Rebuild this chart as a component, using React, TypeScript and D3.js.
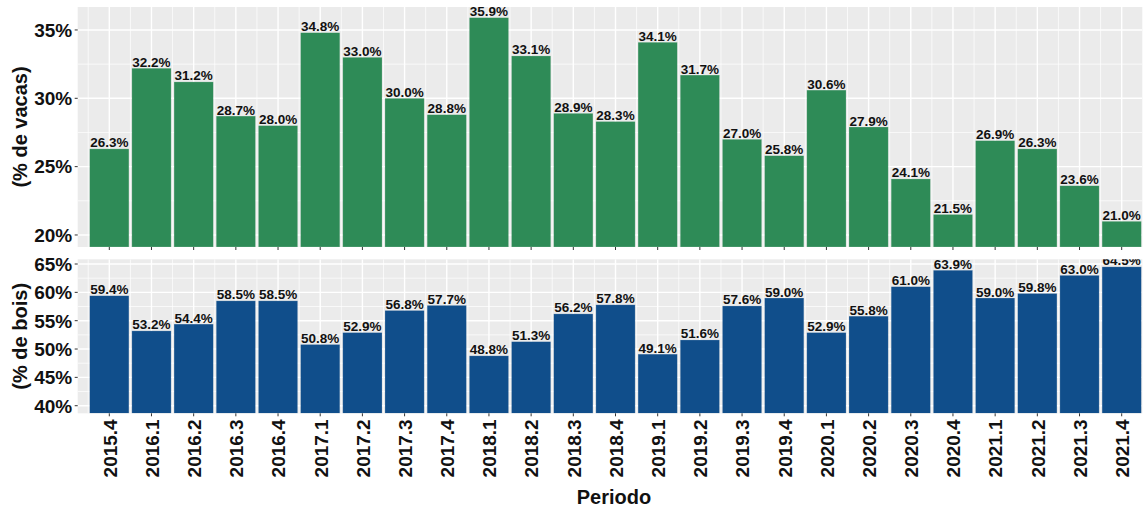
import * as d3 from "d3";

const periods = [
	"2015.4", "2016.1", "2016.2", "2016.3", "2016.4", "2017.1", "2017.2", "2017.3", "2017.4",
	"2018.1", "2018.2", "2018.3", "2018.4", "2019.1", "2019.2", "2019.3", "2019.4",
	"2020.1", "2020.2", "2020.3", "2020.4", "2021.1", "2021.2", "2021.3", "2021.4",
];
const vacas = [
	26.3, 32.2, 31.2, 28.7, 28.0, 34.8, 33.0, 30.0, 28.8, 35.9, 33.1, 28.9, 28.3,
	34.1, 31.7, 27.0, 25.8, 30.6, 27.9, 24.1, 21.5, 26.9, 26.3, 23.6, 21.0,
];
const bois = [
	59.4, 53.2, 54.4, 58.5, 58.5, 50.8, 52.9, 56.8, 57.7, 48.8, 51.3, 56.2, 57.8,
	49.1, 51.6, 57.6, 59.0, 52.9, 55.8, 61.0, 63.9, 59.0, 59.8, 63.0, 64.5,
];
const vacasTicks = [20, 25, 30, 35];
const boisTicks = [40, 45, 50, 55, 60, 65];

const W = 1148;
const H = 508;
const left = 77.7;
const right = 1142.3;
const font = "'Liberation Sans', Arial, Helvetica, sans-serif";

interface PanelProps {
	id: string;
	values: number[];
	ticks: number[];
	domain: [number, number];
	top: number;
	bottom: number;
	fill: string;
	title: string;
	x: d3.ScaleLinear<number, number>;
}

function Panel({ id, values, ticks, domain, top, bottom, fill, title, x }: PanelProps) {
	const y = d3.scaleLinear().domain(domain).range([bottom, top]);
	const step = x(1) - x(0);
	const barW = step * 0.93;
	const minor = ticks.map((t) => t + 2.5).concat([ticks[0] - 2.5]).filter((t) => t > domain[0] && t < domain[1]);
	const vMinor = d3.range(-0.5, values.length, 1).filter((i) => x(i) > left && x(i) < right);
	return (
		<g>
			<defs>
				<clipPath id={`clip-${id}`}>
					<rect x={left} y={top} width={right - left} height={bottom - top} />
				</clipPath>
			</defs>
			<rect x={left} y={top} width={right - left} height={bottom - top} fill="#EBEBEB" />
			<g clipPath={`url(#clip-${id})`}>
				{minor.map((t) => (
					<line key={"hm" + t} x1={left} x2={right} y1={y(t)} y2={y(t)} stroke="#fff" strokeWidth={0.7} />
				))}
				{vMinor.map((i) => (
					<line key={"vm" + i} x1={x(i)} x2={x(i)} y1={top} y2={bottom} stroke="#fff" strokeWidth={0.7} />
				))}
				{ticks.map((t) => (
					<line key={"h" + t} x1={left} x2={right} y1={y(t)} y2={y(t)} stroke="#fff" strokeWidth={1.4} />
				))}
				{values.map((_, i) => (
					<line key={"v" + i} x1={x(i)} x2={x(i)} y1={top} y2={bottom} stroke="#fff" strokeWidth={1.4} />
				))}
				{values.map((v, i) => (
					<rect
						key={"b" + i}
						x={x(i) - barW / 2}
						y={y(v)}
						width={barW}
						height={bottom - y(v)}
						fill={fill}
						stroke="#f0f0f0"
						strokeOpacity={0.35}
						strokeWidth={0.6}
					/>
				))}
				{values.map((v, i) => (
					<text
						key={"l" + i}
						x={x(i)}
						y={y(v) - 1.5}
						textAnchor="middle"
						fontSize={13.5}
						fontWeight="bold"
						fill="#111"
					>
						{v.toFixed(1)}%
					</text>
				))}
			</g>
			{ticks.map((t) => (
				<g key={"yt" + t}>
					<line x1={left - 3} x2={left} y1={y(t)} y2={y(t)} stroke="#333" strokeWidth={1} />
					<text x={left - 5.5} y={y(t)} dy="0.36em" textAnchor="end" fontSize={19} fontWeight="bold" fill="#111">
						{t}%
					</text>
				</g>
			))}
			{values.map((_, i) => (
				<line key={"xt" + i} x1={x(i)} x2={x(i)} y1={bottom} y2={bottom + 3} stroke="#333" strokeWidth={1} />
			))}
			<text
				transform={`translate(27, ${(top + bottom) / 2}) rotate(-90)`}
				textAnchor="middle"
				fontSize={20}
				fontWeight="bold"
				fill="#111"
			>
				{title}
			</text>
		</g>
	);
}

function App() {
	const x = d3.scaleLinear().domain([0, periods.length - 1]).range([109.3, 1121.7]);
	const bottomAxis = 413.3;
	return (
		<svg
			width={W}
			height={H}
			style={{ position: "absolute", left: 0, top: 0, background: "#fff" }}
			fontFamily={font}
		>
			<Panel id="vacas" values={vacas} ticks={vacasTicks} domain={[19.12, 36.68]} top={7} bottom={247}
				fill="#2E8B57" title="(% de vacas)" x={x} />
			<Panel id="bois" values={bois} ticks={boisTicks} domain={[38.66, 65.83]} top={259.3} bottom={bottomAxis}
				fill="#104E8B" title="(% de bois)" x={x} />
			{periods.map((p, i) => (
				<text
					key={p}
					transform={`translate(${x(i) + 0.5}, ${bottomAxis + 6}) rotate(-90)`}
					textAnchor="end"
					dy="0.36em"
					fontSize={19}
					fontWeight="bold"
					fill="#111"
				>
					{p}
				</text>
			))}
			<text x={614} y={504} textAnchor="middle" fontSize={20} fontWeight="bold" fill="#111">
				Periodo
			</text>
		</svg>
	);
}

export default App;
